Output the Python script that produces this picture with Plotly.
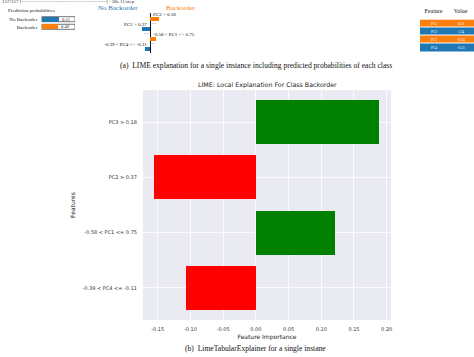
import plotly.graph_objects as go

W, H = 474, 357

# ---------------- data ----------------
features = ["PC3 > 0.18", "PC2 > 0.37", "-0.58 < PC1 <= 0.75", "-0.39 < PC4 <= -0.11"]
importance = [0.189, -0.155, 0.121, -0.107]
x_ticks = [-0.15, -0.10, -0.05, 0.00, 0.05, 0.10, 0.15, 0.20]

class_names = ["No Backorder", "Backorder"]
probabilities = [0.51, 0.49]
prob_max = [1.0, 1.0]

table_header = ["Feature", "Value"]
table_features = ["PC3", "PC2", "PC1", "PC4"]
table_values = ["0.23", "1.34", "-0.34", "-0.31"]

BLUE = "#1f77b4"
ORANGE = "#ff7f0e"


def px(x):
    return x / W


def py(y):
    return 1 - y / H


fig = go.Figure()

# ---------------- (b) main chart ----------------
bar_colors = ["green" if v > 0 else "red" for v in importance]
fig.add_trace(go.Bar(
    x=importance, y=list(range(len(features))), orientation="h",
    marker=dict(color=bar_colors, line=dict(width=0)), width=0.8,
    xaxis="x", yaxis="y", showlegend=False, hoverinfo="skip",
))

# ---------------- (a) mini explanation chart ----------------
mini_idx = list(range(len(features)))
mini_colors = [ORANGE if v > 0 else BLUE for v in importance]
fig.add_trace(go.Bar(
    x=importance, y=mini_idx, orientation="h",
    marker=dict(color=mini_colors, line=dict(width=0)), width=0.48,
    xaxis="x2", yaxis="y2", showlegend=False, hoverinfo="skip",
))

# ---------------- (a) prediction probabilities ----------------
fig.add_trace(go.Bar(
    x=prob_max, y=class_names, orientation="h",
    marker=dict(color="white", line=dict(color="#555555", width=0.8)), width=0.66,
    xaxis="x3", yaxis="y3", showlegend=False, hoverinfo="skip",
))
fig.add_trace(go.Bar(
    x=probabilities, y=class_names, orientation="h",
    marker=dict(color=[BLUE, ORANGE], line=dict(width=0)), width=0.66,
    xaxis="x3", yaxis="y3", showlegend=False, hoverinfo="skip",
))

# ---------------- (a) feature/value table (as a heatmap) ----------------
sign = [1 if v > 0 else 0 for v in importance]
fig.add_trace(go.Heatmap(
    z=[[s, s] for s in sign],
    x=table_header, y=table_features,
    text=[[f, val] for f, val in zip(table_features, table_values)],
    texttemplate="%{text}",
    textfont=dict(family="Liberation Serif", size=3.5, color="white"),
    colorscale=[[0, BLUE], [1, ORANGE]], zmin=0, zmax=1, showscale=False,
    ygap=1, xgap=0, hoverinfo="skip",
    xaxis="x4", yaxis="y4",
))

layout_axes = dict(
    xaxis=dict(domain=[px(143), px(391)], range=[-0.1725, 0.2066],
               tickvals=x_ticks, ticktext=[f"{v:.2f}" for v in x_ticks],
               showgrid=True, gridcolor="white", gridwidth=0.8, zeroline=False,
               ticks="outside", ticklen=4, tickcolor="rgba(0,0,0,0)",
               tickfont=dict(family="DejaVu Sans", size=5, color="#333333"),
               title=dict(text="Feature Importance", standoff=3,
                          font=dict(family="DejaVu Sans", size=6, color="#222222")),
               anchor="y", fixedrange=True),
    yaxis=dict(domain=[py(320), py(90)], range=[3.58, -0.58],
               tickvals=list(range(len(features))), ticktext=features,
               showgrid=True, gridcolor="white", gridwidth=0.8, zeroline=False,
               ticks="outside", ticklen=4, tickcolor="rgba(0,0,0,0)",
               tickfont=dict(family="DejaVu Sans", size=5, color="#333333"),
               title=dict(text="Features", standoff=6,
                          font=dict(family="DejaVu Sans", size=6, color="#222222")),
               anchor="x", fixedrange=True),
    xaxis2=dict(domain=[px(120), px(180)], range=[-0.612, 0.612], visible=True,
                showgrid=False, showticklabels=False, ticks="",
                zeroline=True, zerolinecolor="#111111", zerolinewidth=1,
                showline=False, anchor="y2", fixedrange=True),
    yaxis2=dict(domain=[py(53), py(13)], range=[3.4, -0.6], showgrid=False,
                showticklabels=False, ticks="", zeroline=False, showline=False,
                anchor="x2", fixedrange=True),
    xaxis3=dict(domain=[px(41.5), px(75)], range=[0, 1], showgrid=False,
                showticklabels=False, ticks="", zeroline=False, showline=False,
                anchor="y3", fixedrange=True),
    yaxis3=dict(domain=[py(31.4), py(14.6)], range=[1.6, -0.6], showgrid=False,
                type="category", categoryarray=class_names,
                ticks="outside", ticklen=2, tickcolor="rgba(0,0,0,0)",
                tickfont=dict(family="Liberation Serif", size=5, color="#222222"),
                zeroline=False, showline=False, anchor="x3", fixedrange=True),
    xaxis4=dict(domain=[px(420), 1.0], side="top", type="category",
                showgrid=False, zeroline=False, showline=False,
                ticks="outside", ticklen=3, tickcolor="rgba(0,0,0,0)",
                tickfont=dict(family="Liberation Serif", size=6, color="#222222"),
                anchor="y4", fixedrange=True),
    yaxis4=dict(domain=[py(52), py(19.5)], type="category", autorange="reversed",
                showgrid=False, zeroline=False, showline=False, showticklabels=False,
                ticks="", anchor="x4", fixedrange=True),
)

annotations = []
# main title
annotations.append(dict(text="LIME: Local Explanation For Class Backorder",
                        x=px(267), y=py(84.5), xref="paper", yref="paper",
                        showarrow=False, xanchor="center", yanchor="middle",
                        font=dict(family="DejaVu Sans", size=6.3, color="#222222")))
# captions
annotations.append(dict(text="(a)  LIME explanation for a single instance including predicted probabilities of each class",
                        x=px(256), y=py(65), xref="paper", yref="paper",
                        showarrow=False, xanchor="center", yanchor="middle",
                        font=dict(family="Liberation Serif", size=7.6, color="#111111")))
annotations.append(dict(text="(b)  LimeTabularExplainer for a single instane",
                        x=px(256), y=py(348), xref="paper", yref="paper",
                        showarrow=False, xanchor="center", yanchor="middle",
                        font=dict(family="Liberation Serif", size=7.6, color="#111111")))
# progress line (cut at the top)
annotations.append(dict(text="157/157 [==============================] - 38s 11/step",
                        x=0, y=py(1.2), xref="paper", yref="paper",
                        showarrow=False, xanchor="left", yanchor="middle",
                        font=dict(family="Liberation Serif", size=5, color="#333333")))
annotations.append(dict(text="Prediction probabilities",
                        x=px(6), y=py(10.5), xref="paper", yref="paper",
                        showarrow=False, xanchor="left", yanchor="middle",
                        font=dict(family="Liberation Serif", size=5, color="#222222")))
# class headings
annotations.append(dict(text="No Backorder", x=px(118), y=py(7.5), xref="paper", yref="paper",
                        showarrow=False, xanchor="center", yanchor="middle",
                        font=dict(family="Liberation Serif", size=7, color=BLUE)))
annotations.append(dict(text="Backorder", x=px(181), y=py(7.5), xref="paper", yref="paper",
                        showarrow=False, xanchor="center", yanchor="middle",
                        font=dict(family="Liberation Serif", size=7, color=ORANGE)))
# probability values
for name, p in zip(class_names, probabilities):
    annotations.append(dict(text=f"{p:.2f}", x=p + 0.04, y=name, xref="x3", yref="y3",
                            showarrow=False, xanchor="left", yanchor="middle",
                            font=dict(family="Liberation Serif", size=4.5, color="#222222")))
# mini chart labels
for i, (f, v) in enumerate(zip(features, importance)):
    annotations.append(dict(text=f, x=0, y=i - 0.45, xref="x2", yref="y2",
                            showarrow=False, xanchor="left" if v > 0 else "right",
                            xshift=1 if v > 0 else -1, yanchor="middle",
                            font=dict(family="Liberation Serif", size=5, color="#111111")))
    annotations.append(dict(text=f"{abs(v):.2f}", x=v / 2, y=i + 0.42, xref="x2", yref="y2",
                            showarrow=False, xanchor="center", yanchor="middle",
                            font=dict(family="Liberation Serif", size=2.5, color="#555555")))

fig.update_layout(
    width=W, height=H, margin=dict(l=0, r=0, t=0, b=0),
    paper_bgcolor="white", plot_bgcolor="#EAEAF2",
    barmode="overlay", bargap=0,
    annotations=annotations,
    shapes=[dict(type="rect", xref=f"x{k} domain", yref=f"y{k} domain", x0=0, x1=1, y0=0, y1=1,
                 fillcolor="white", line=dict(width=0), layer="below") for k in (2, 3, 4)],
    **layout_axes,
)

fig.write_html(
    "out.html",
    config={"displayModeBar": False, "staticPlot": True},
    post_script="document.body.style.margin='0';document.body.style.padding='0';"
                "document.documentElement.style.overflow='hidden';",
)
